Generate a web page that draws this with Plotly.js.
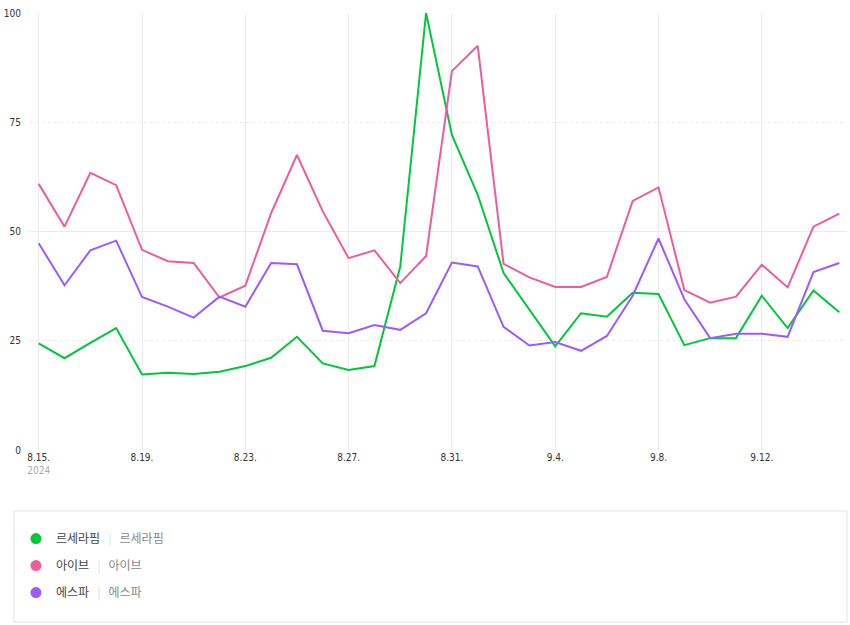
<!DOCTYPE html>
<html>
<head>
<meta charset="utf-8">
<script src="https://cdn.plot.ly/plotly-3.0.1.min.js"></script>
<style>
  html, body { margin: 0; padding: 0; background: #fff; }
  #chart { width: 850px; height: 625px; }
</style>
</head>
<body>
<div id="chart"></div>
<script>
// daily dates, 2024-08-15 .. 2024-09-15
const dates = [
    '2024-08-15', '2024-08-16', '2024-08-17', '2024-08-18', '2024-08-19', '2024-08-20', '2024-08-21', '2024-08-22',
    '2024-08-23', '2024-08-24', '2024-08-25', '2024-08-26', '2024-08-27', '2024-08-28', '2024-08-29', '2024-08-30',
    '2024-08-31', '2024-09-01', '2024-09-02', '2024-09-03', '2024-09-04', '2024-09-05', '2024-09-06', '2024-09-07',
    '2024-09-08', '2024-09-09', '2024-09-10', '2024-09-11', '2024-09-12', '2024-09-13', '2024-09-14', '2024-09-15'
];

const seriesNames = ['르세라핌', '아이브', '에스파'];
const seriesColors = ['#00c73c', '#ef5b9c', '#9b5cff'];

const lesserafim = [24.4, 21.0, 24.5, 27.9, 17.3, 17.7, 17.4, 17.9, 19.2, 21.1, 25.9, 19.8, 18.3, 19.2, 42.0, 100,
    72.1, 58.4, 40.5, 32.0, 23.7, 31.3, 30.5, 36.0, 35.7, 24.0, 25.6, 25.6, 35.3, 27.9, 36.5, 31.5];
const ive = [60.9, 51.1, 63.4, 60.6, 45.8, 43.2, 42.8, 34.9, 37.6, 54.2, 67.5, 54.6, 43.9, 45.7, 38.2, 44.4,
    86.7, 92.5, 42.6, 39.5, 37.3, 37.3, 39.6, 57.0, 60.1, 36.6, 33.7, 35.1, 42.4, 37.2, 51.1, 54.1];
const aespa = [47.3, 37.7, 45.7, 47.9, 35.0, 32.8, 30.3, 35.1, 32.8, 42.8, 42.5, 27.3, 26.7, 28.6, 27.5, 31.3,
    42.9, 42.0, 28.2, 23.9, 24.7, 22.7, 26.1, 35.3, 48.4, 34.5, 25.6, 26.6, 26.6, 25.9, 40.7, 42.8];
const seriesValues = [lesserafim, ive, aespa];

const xTickVals = ['2024-08-15', '2024-08-19', '2024-08-23', '2024-08-27', '2024-08-31', '2024-09-04', '2024-09-08', '2024-09-12'];
const xTickText = ['8.15.<br><span style="color:#aaaaaa">2024</span>', '8.19.', '8.23.', '8.27.', '8.31.', '9.4.', '9.8.', '9.12.'];

const TICK_FONT = { family: 'Liberation Sans Narrow, DejaVu Sans Condensed, sans-serif', size: 10, color: '#333' };
const GRID = '#ebebeb';

const traces = [];
seriesValues.forEach((vals, i) => {
    traces.push({
        x: dates, y: vals, type: 'scatter', mode: 'lines',
        line: { color: seriesColors[i], width: 2 },
        showlegend: false, hoverinfo: 'skip'
    });
});
// legend entries (dot + name | name)
seriesNames.forEach((name, i) => {
    traces.push({
        x: [null], y: [null], type: 'scatter', mode: 'markers',
        marker: { color: seriesColors[i], size: 11 },
        legendgroup: 'g' + i,
        name: name + '&nbsp;&nbsp; <span style="color:#dddddd">|</span> &nbsp;&nbsp;<span style="color:#888888">' + name + '</span>'
    });
});
// labels 25 / 75 on an overlaid axis (their grid is dotted)
traces.push({ x: [null], y: [null], yaxis: 'y2', showlegend: false, hoverinfo: 'skip' });

const layout = {
    width: 850, height: 625,
    margin: { l: 30, r: 3, t: 13, b: 175 },
    paper_bgcolor: '#fff', plot_bgcolor: '#fff',
    font: { family: 'Noto Sans CJK KR, sans-serif' },
    xaxis: {
        type: 'date',
        range: ['2024-08-14 15:55', '2024-09-15 07:10'],
        tickmode: 'array', tickvals: xTickVals, ticktext: xTickText,
        showgrid: true, gridcolor: GRID, gridwidth: 1,
        zeroline: false, showline: false, ticks: '',
        tickfont: TICK_FONT
    },
    yaxis: {
        range: [0, 100], tickmode: 'array', tickvals: [0, 50, 100],
        showgrid: true, gridcolor: GRID, gridwidth: 1,
        minor: { tickmode: 'array', tickvals: [25, 75], showgrid: true, gridcolor: GRID, griddash: 'dot', gridwidth: 1 },
        zeroline: false, showline: false, ticks: '',
        ticklabelstandoff: 8,
        tickfont: TICK_FONT
    },
    yaxis2: {
        overlaying: 'y', side: 'left', range: [0, 100],
        tickmode: 'array', tickvals: [25, 75],
        showgrid: false, zeroline: false, showline: false, ticks: '',
        ticklabelstandoff: 8,
        tickfont: TICK_FONT
    },
    showlegend: true,
    legend: {
        x: -0.0172, y: -0.1696, xanchor: 'left', yanchor: 'top',
        orientation: 'v', tracegroupgap: 8, itemwidth: 30,
        bgcolor: 'rgba(0,0,0,0)', borderwidth: 0,
        font: { family: 'Noto Sans CJK KR, sans-serif', size: 12, color: '#444', weight: 400 }
    },
    shapes: [{
        type: 'rect', xref: 'paper', yref: 'paper',
        x0: -0.0196, x1: 1.0, y0: -0.3936, y1: -0.1396,
        line: { color: '#e3e3e3', width: 1 }, fillcolor: 'rgba(0,0,0,0)', layer: 'below'
    }]
};

Plotly.newPlot('chart', traces, layout, { displayModeBar: false, staticPlot: true });
</script>
</body>
</html>
